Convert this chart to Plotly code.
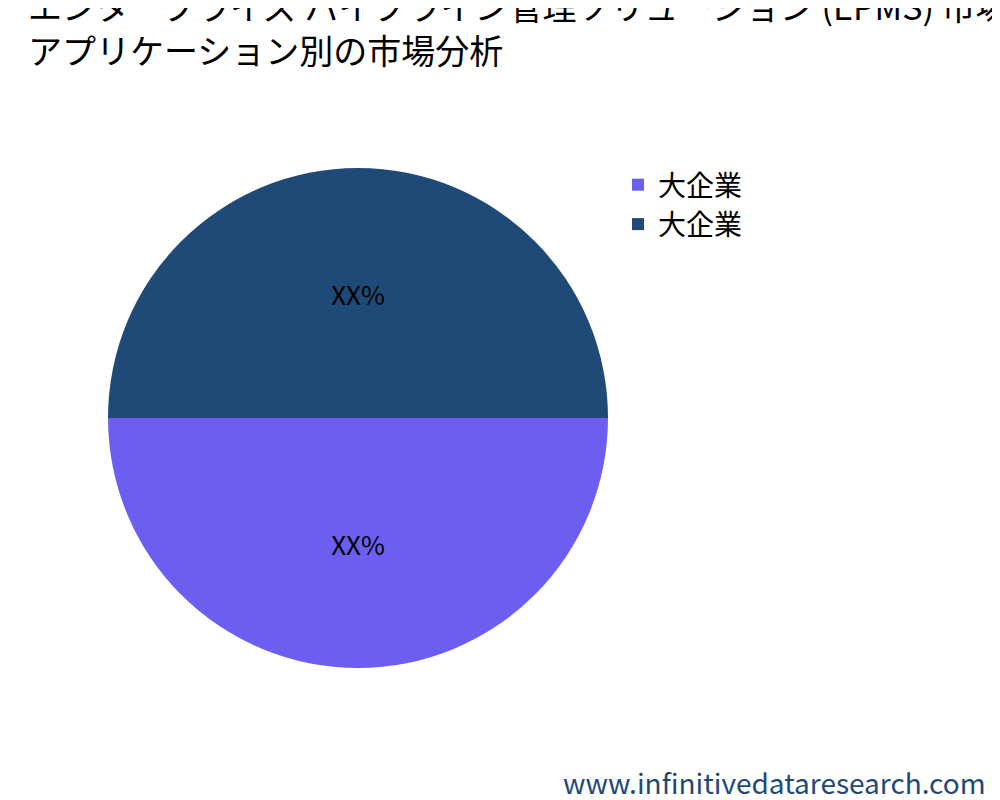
import plotly.graph_objects as go

# data
labels = ["大企業", "大企業\u200b"]
values = [50, 50]
slice_text = ["XX%", "XX%"]
colors = ["#6c5ff0", "#1f4a78"]

fig = go.Figure(go.Pie(
    labels=labels,
    values=values,
    text=slice_text,
    textinfo="text",
    textposition="inside",
    insidetextfont=dict(color="black", size=26),
    marker=dict(colors=colors),
    sort=False,
    rotation=90,
    direction="clockwise",
    hoverinfo="label+percent",
    domain=dict(x=[0.1, 0.6], y=[0.175, 0.8]),
))

fig.update_layout(
    width=1000, height=800,
    paper_bgcolor="white",
    font=dict(family="Noto Sans CJK JP, Noto Sans, sans-serif"),
    title=dict(
        text="エンタープライズ パイプライン管理ソリューション (EPMS) 市場<br>アプリケーション別の市場分析",
        x=0.02, xanchor="left", y=0.985, yanchor="top",
        font=dict(size=34, color="black"),
    ),
    legend=dict(x=0.61, y=0.81, xanchor="left", yanchor="top",
                font=dict(size=28, color="black"), itemsizing="constant"),
    margin=dict(l=0, r=0, t=0, b=0),
    annotations=[dict(
        text="www.infinitivedataresearch.com", x=0.98, y=0.005,
        xref="paper", yref="paper", xanchor="right", yanchor="bottom",
        showarrow=False, font=dict(size=28, color="#1f4a78"),
    )],
)

fig.write_html("out.html")
